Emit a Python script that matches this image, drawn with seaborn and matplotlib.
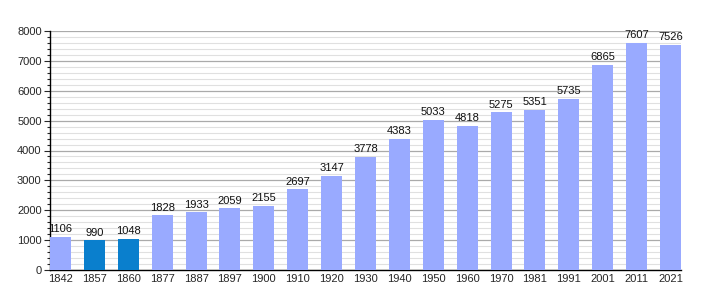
import matplotlib
matplotlib.use("Agg")
import matplotlib.pyplot as plt
from matplotlib.ticker import MultipleLocator
import seaborn as sns
import pandas as pd

years = ["1842", "1857", "1860", "1877", "1887", "1897", "1900", "1910", "1920", "1930",
         "1940", "1950", "1960", "1970", "1981", "1991", "2001", "2011", "2021"]
population = [1106, 990, 1048, 1828, 1933, 2059, 2155, 2697, 3147, 3778,
              4383, 5033, 4818, 5275, 5351, 5735, 6865, 7607, 7526]
highlight = ["1857", "1860"]

light = "#99aaff"
dark = "#0a7fcd"
colors = [dark if y in highlight else light for y in years]

df = pd.DataFrame({"year": years, "pop": population})

sns.set_style("white")
plt.rcParams['font.family'] = ['Liberation Sans', 'DejaVu Sans']

fig = plt.figure(figsize=(7.1, 3.0), dpi=100)
ax = fig.add_axes([50/710, 30/300, 631/710, 239/300])

w = 0.62
sns.barplot(data=df, x="year", y="pop", hue="year", palette=colors, legend=False,
            width=w, ax=ax, zorder=3, saturation=1, linewidth=0, edgecolor="none")

n = len(years)
ax.set_xlim(-w/2, n - 1 + w/2)
ax.set_ylim(0, 8000)
ax.yaxis.set_major_locator(MultipleLocator(1000))
ax.yaxis.set_minor_locator(MultipleLocator(200))
ax.grid(which="major", axis="y", color="#aaaaaa", linewidth=0.9, zorder=0)
ax.grid(which="minor", axis="y", color="#e0e0e0", linewidth=0.8, zorder=0)
ax.set_axisbelow(True)

for i, v in enumerate(population):
    ax.text(i, v + 90, str(v), ha="center", va="bottom", fontsize=8, color="#111111")

for s in ["top", "right"]:
    ax.spines[s].set_visible(False)
for s in ["left", "bottom"]:
    ax.spines[s].set_color("black")
    ax.spines[s].set_linewidth(1.0)

ax.tick_params(axis="y", which="major", length=4, width=0.8, labelsize=8, pad=2, left=True)
ax.tick_params(axis="y", which="minor", length=2, width=0.8, left=True)
ax.tick_params(axis="x", length=0, labelsize=8, pad=3)
ax.set_xlabel("")
ax.set_ylabel("")

fig.savefig("out.png", dpi=100)
